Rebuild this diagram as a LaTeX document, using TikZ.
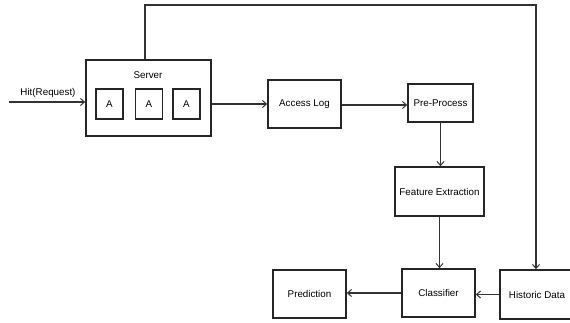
\documentclass[tikz,border=0pt]{standalone}
\usepackage{fontspec}
\setmainfont{Liberation Sans}
\usetikzlibrary{arrows.meta}
\begin{document}
\begin{tikzpicture}[x=1pt,y=-1pt,
  box/.style={draw=black!85,line width=1.6pt,minimum width=#1,inner sep=0pt,font=\fontsize{9.8}{11}\selectfont},
  lbl/.style={inner sep=0pt,font=\fontsize{9.8}{11}\selectfont},
  arr/.style={draw=black!80,line width=1.1pt,-{Straight Barb[length=4pt,width=7pt,line width=1pt]}},
  ln/.style={draw=black!80,line width=1.1pt}]
\useasboundingbox (0,0) rectangle (570,323);
\node[box=125pt,minimum height=76pt] (srv) at (148.5,98) {};
\node[lbl] (srvl) at (148,75) {Server};
\node[box=27pt,minimum height=30pt] (a1) at (109.5,104) {A};
\node[box=27pt,minimum height=30pt] (a2) at (149,104) {A};
\node[box=27pt,minimum height=30pt] (a3) at (186.5,104) {A};
\node[box=73pt,minimum height=48pt] (acc) at (304.5,104) {Access Log};
\node[box=65pt,minimum height=38pt] (pre) at (440.5,103) {Pre-Process};
\node[box=89pt,minimum height=49pt] (fe) at (439.5,191.5) {Feature Extraction};
\node[box=73pt,minimum height=48pt] (cls) at (438.5,293) {Classifier};
\node[box=73pt,minimum height=48pt] (pred) at (309.5,294) {Prediction};
\node[box=73pt,minimum height=49pt] (hist) at (536.5,294.5) {};
\node[lbl] (histl) at (537,294.5) {Historic Data};
\coordinate (hs) at (9,102);
\node[lbl] (hitl) at (48,93) {Hit(Request)};
\coordinate (tl) at (145,5);
\coordinate (tr) at (536,5);
\draw[arr] (hs) -- (hs -| srv.west);
\draw[arr] (srv.east |- acc) -- (acc.west);
\draw[arr] ([yshift=-1pt]acc.east) -- ([yshift=-1pt]acc.east -| pre.west);
\draw[arr] (pre.south) -- (pre.south |- fe.north);
\draw[arr] (fe.south) -- (fe.south |- cls.north);
\draw[arr] (cls.west) -- (cls.west -| pred.east);
\draw[arr] (hist.west) -- (hist.west -| cls.east);
\draw[arr] (srv.north -| tl) -- (tl) -- (tr) -- (tr |- hist.north);
\end{tikzpicture}
\end{document}
